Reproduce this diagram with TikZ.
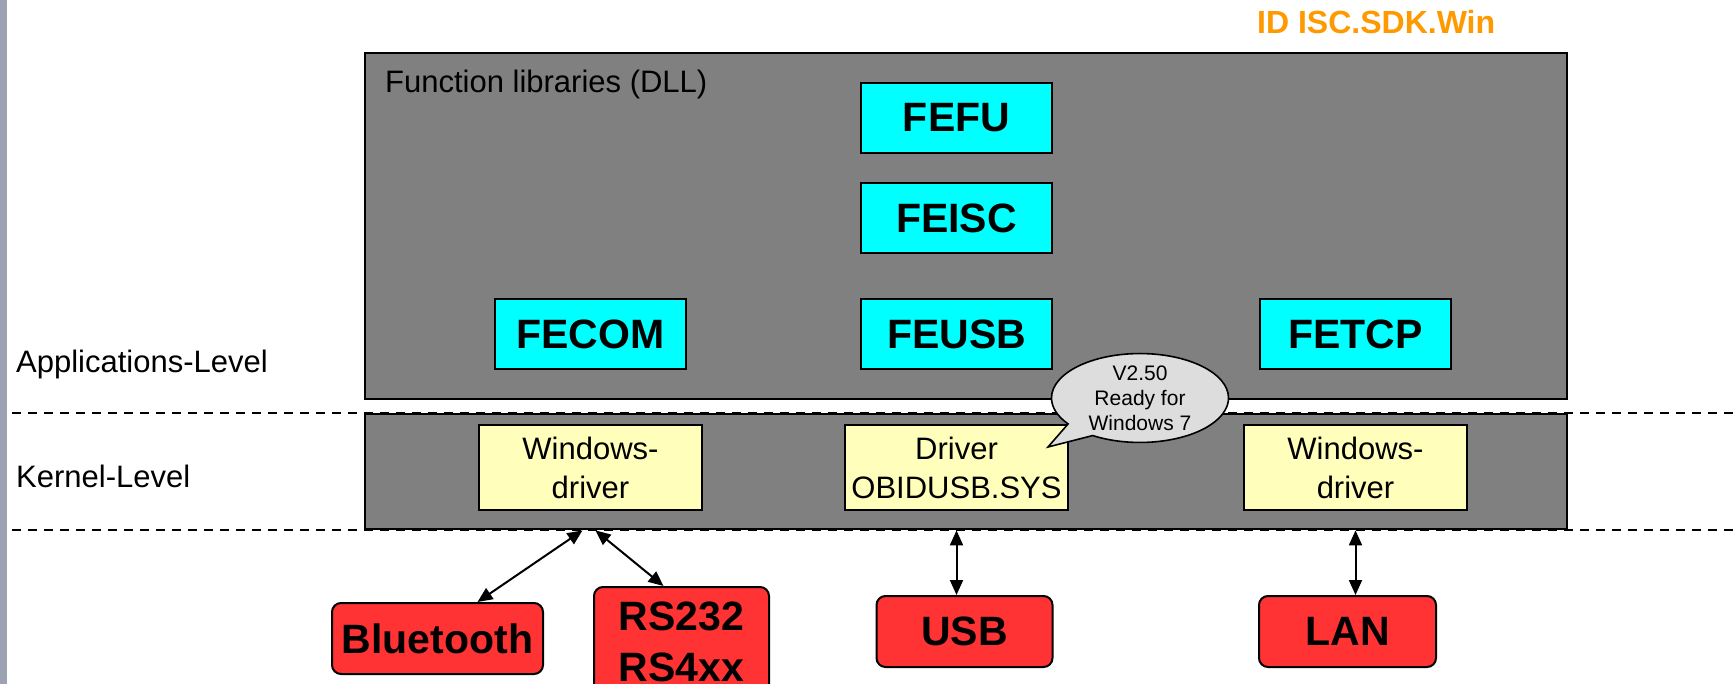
\documentclass[tikz,border=0pt]{standalone}
\usepackage{fontspec}
\setmainfont{Liberation Sans}
\usetikzlibrary{shapes,shapes.callouts,arrows.meta,positioning,calc}

\definecolor{framegray}{HTML}{808080}
\definecolor{libcyan}{HTML}{00FFFF}
\definecolor{drvyellow}{HTML}{FFFFBB}
\definecolor{portred}{HTML}{FF3333}
\definecolor{notegray}{HTML}{DDDDDD}
\definecolor{idorange}{HTML}{FF9900}
\definecolor{stripgray}{HTML}{9CA2B4}

\begin{document}
\begin{tikzpicture}[
    x=1pt, y=-1pt,
    node distance=28pt,
    frame/.style={rectangle, draw, fill=framegray, line width=2.4pt, inner sep=0pt, anchor=north west},
    lib/.style={rectangle, draw, fill=libcyan, line width=2pt, minimum width=191pt, minimum height=70pt, font=\fontsize{41}{48}\selectfont\bfseries},
    drv/.style={rectangle, draw, fill=drvyellow, line width=2pt, minimum width=223pt, minimum height=85pt, align=center, font=\fontsize{31}{39}\selectfont},
    port/.style={rectangle, draw, rounded corners=9pt, fill=portred, line width=2pt, minimum height=71pt, inner sep=0pt, align=center, font=\fontsize{41}{51}\selectfont\bfseries},
    level/.style={anchor=base west, inner sep=0pt, font=\fontsize{31}{37}\selectfont},
    note/.style={ellipse callout, draw, fill=notegray, line width=1.6pt, callout pointer arc=22, minimum width=177pt, inner xsep=0pt, inner ysep=-1pt, align=center, font=\fontsize{21}{25}\selectfont},
    biarrow/.style={{Triangle[length=15pt,width=13pt]}-{Triangle[length=15pt,width=13pt]}, line width=2pt},
    sep/.style={dash pattern=on 9pt off 7pt, line width=2pt}
]
    % Page
    \path[fill=white, use as bounding box] (0,0) rectangle (1733,684);
    \fill[stripgray] (0,0) rectangle (7,684);

    % Title
    \node[anchor=base west, inner sep=0pt, text=idorange, font=\fontsize{32}{38}\selectfont\bfseries] (sdkid) at (1257,34) {ID ISC.SDK.Win};

    % Frames
    \node[frame, minimum width=1202pt, minimum height=346pt] (app) at (364,52) {};
    \node[frame, minimum width=1202pt, minimum height=115pt] (kernel) at (364,413) {};
    \node[level, anchor=base west] (dlltitle) at (385,93) {Function libraries (DLL)};

    % Levels
    \node[level] (applevel) at (16,373) {Applications-Level};
    \node[level] (kernlevel) at (16,487) {Kernel-Level};
    \draw[sep] (12,0 |- kernel.north) -- (1733,0 |- kernel.north);
    \draw[sep] (12,0 |- kernel.south) -- (1733,0 |- kernel.south);

    % Libraries
    \node[lib] (fefu) at (956.5,118) {FEFU};
    \node[lib, below=of fefu] (feisc) {FEISC};
    \node[lib, below=44pt of feisc] (feusb) {FEUSB};
    \node[lib, left=173pt of feusb] (fecom) {FECOM};
    \node[lib, right=206pt of feusb] (fetcp) {FETCP};

    % Drivers
    \node[drv, below=54pt of fecom] (drvcom) {Windows-\\driver};
    \node[drv, below=54pt of feusb] (drvusb) {Driver\\OBIDUSB.SYS};
    \node[drv, below=54pt of fetcp] (drvtcp) {Windows-\\driver};

    % Interfaces
    \node[port, minimum width=211pt] (bt) at (437.5,638.5) {Bluetooth};
    \node[port, minimum width=175pt, minimum height=110pt] (rs) at (681.5,642) {RS232\\RS4xx};
    \node[port, minimum width=176pt, below=84pt of drvusb, xshift=8pt] (usb) {USB};
    \node[port, minimum width=177pt, below=84pt of drvtcp, xshift=-8pt] (lan) {LAN};

    % Arrows
    \draw[biarrow] ($(drvcom.south |- kernel.south)+(-8,0)$) -- ($(bt.north)+(40,0)$);
    \draw[biarrow] ($(drvcom.south |- kernel.south)+(5,0)$) -- ($(rs.north)+(-18,0)$);
    \draw[biarrow] (drvusb.south |- kernel.south) -- (drvusb.south |- usb.north);
    \draw[biarrow] (drvtcp.south |- kernel.south) -- (drvtcp.south |- lan.north);

    % Note
    \node[note, callout absolute pointer={(1048,447)}] (ready) at (1140,398) {V2.50\\Ready for\\Windows 7};
\end{tikzpicture}
\end{document}
